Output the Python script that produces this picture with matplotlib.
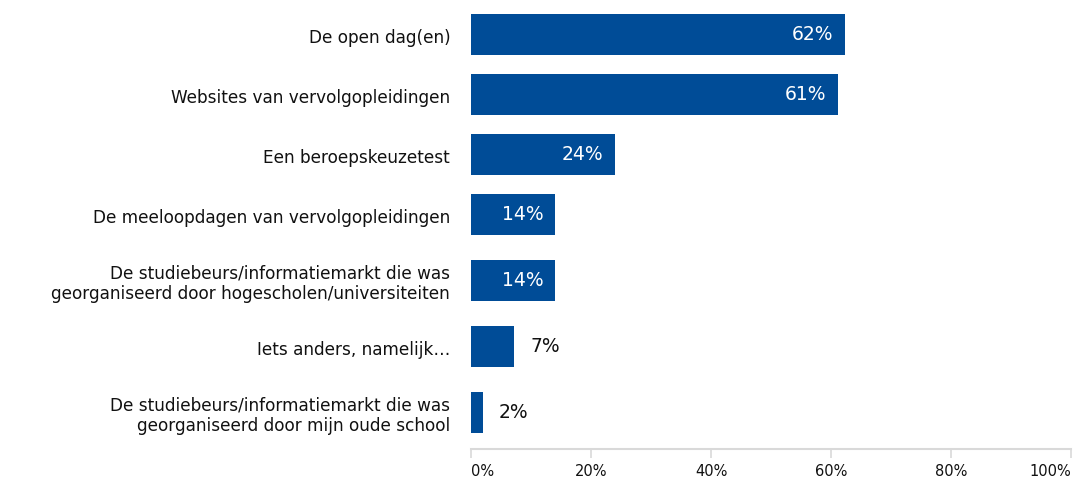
import matplotlib.pyplot as plt
from matplotlib.transforms import ScaledTranslation

categories = [
    "De open dag(en)",
    "Websites van vervolgopleidingen",
    "Een beroepskeuzetest",
    "De meeloopdagen van vervolgopleidingen",
    "De studiebeurs/informatiemarkt die was\ngeorganiseerd door hogescholen/universiteiten",
    "Iets anders, namelijk\u2026",
    "De studiebeurs/informatiemarkt die was\ngeorganiseerd door mijn oude school",
]
values = [62.3, 61.1, 24.0, 14.0, 14.0, 7.2, 2.0]
value_labels = ["62%", "61%", "24%", "14%", "14%", "7%", "2%"]
ticks = [0, 20, 40, 60, 80, 100]
tick_labels = ["0%", "20%", "40%", "60%", "80%", "100%"]

bar_color = "#004C97"
W, H = 1073, 482

fig = plt.figure(figsize=(W / 100, H / 100), dpi=100)
ax_bottom = 449
ax = fig.add_axes([471 / W, (H - ax_bottom) / H, (1071 - 471) / W, ax_bottom / H])

# row heights depend on number of label lines
positions = []
y = 4.5
for c in categories:
    h = 72 if "\n" in c else 60
    positions.append(y + h / 2)
    y += h

ax.barh(positions, values, height=41, color=bar_color)
ax.set_xlim(0, 100)
ax.set_ylim(ax_bottom, 0)

for p, v, lab in zip(positions, values, value_labels):
    if v > 10:
        ax.annotate(lab, (v, p), xytext=(-8.5, 0), textcoords="offset points",
                    ha="right", va="center", color="white", fontsize=13.5)
    else:
        ax.annotate(lab, (v, p), xytext=(11.5, 0), textcoords="offset points",
                    ha="left", va="center", color="#111111", fontsize=13.5)

ax.set_yticks(positions)
ax.set_yticklabels(categories, fontsize=12.2, color="#111111", ha="right",
                   va="center", linespacing=1.2)
ax.tick_params(axis="y", length=0, pad=15)
# labels sit a little below the bar centre in the original
shift = ScaledTranslation(0, -3.5 / 100, fig.dpi_scale_trans)
for t in ax.get_yticklabels():
    t.set_transform(t.get_transform() + shift)

ax.set_xticks(ticks)
ax.set_xticklabels(tick_labels, fontsize=10.5, color="#111111")
ax.tick_params(axis="x", length=6.5, width=1.2, color="#d9d9d9", pad=4)
xlabs = ax.get_xticklabels()
xlabs[0].set_ha("left")
xlabs[-1].set_ha("right")

for s in ["top", "right", "left"]:
    ax.spines[s].set_visible(False)
ax.spines["bottom"].set_color("#d9d9d9")
ax.spines["bottom"].set_linewidth(1.5)

fig.savefig("out.png", dpi=100)
